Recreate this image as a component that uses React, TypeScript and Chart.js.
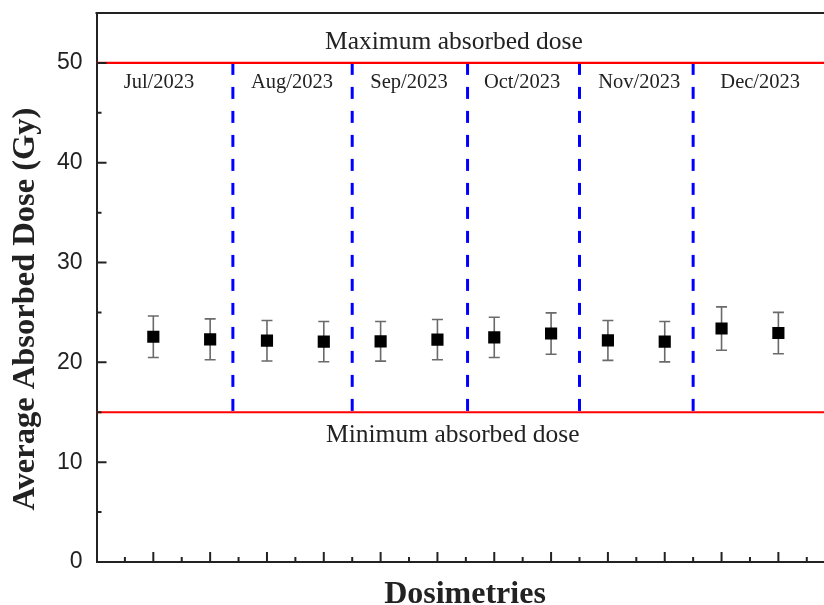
import React, { useEffect, useRef } from 'react';
import { Chart, registerables } from 'chart.js';

Chart.register(...registerables);

// ---- data ----
const dosimetryIndex = [1, 2, 3, 4, 5, 6, 7, 8, 9, 10, 11, 12];
const avgDose = [22.57, 22.31, 22.17, 22.08, 22.11, 22.28, 22.5, 22.89, 22.2, 22.07, 23.39, 22.94];
const doseError = [2.08, 2.05, 2.03, 2.02, 1.99, 2.02, 2.02, 2.07, 2.0, 2.02, 2.17, 2.07];
const monthLabels = ['Jul/2023', 'Aug/2023', 'Sep/2023', 'Oct/2023', 'Nov/2023', 'Dec/2023'];
const monthLabelX = [1.1, 3.44, 5.5, 7.49, 9.55, 11.68];
const monthDividers = [2.4, 4.5, 6.53, 8.5, 10.5];
const maxDose = 50;
const minDose = 15;
const yMajorTicks = [0, 10, 20, 30, 40, 50];
const yMinorTicks = [5, 15, 25, 35, 45];
const xMajorTicks = [1, 2, 3, 4, 5, 6, 7, 8, 9, 10, 11, 12];
const xMinorTicks = [0.5, 1.5, 2.5, 3.5, 4.5, 5.5, 6.5, 7.5, 8.5, 9.5, 10.5, 11.5, 12.5];

const SERIF = "'Liberation Serif', 'Times New Roman', serif";
const SANS = "'Liberation Sans', Arial, sans-serif";

const decorPlugin = {
  id: 'decor',
  beforeDatasetsDraw(chart: any) {
    const ctx = chart.ctx;
    const xs = chart.scales.x;
    const ys = chart.scales.y;
    const area = chart.chartArea;
    ctx.save();

    // dashed month dividers
    ctx.strokeStyle = '#0000ff';
    ctx.lineWidth = 3;
    ctx.setLineDash([12, 12]);
    monthDividers.forEach((v) => {
      const x = xs.getPixelForValue(v);
      ctx.beginPath();
      ctx.moveTo(x, ys.getPixelForValue(maxDose));
      ctx.lineTo(x, ys.getPixelForValue(minDose));
      ctx.stroke();
    });
    ctx.setLineDash([]);

    // limits
    ctx.strokeStyle = '#ff0000';
    ctx.lineWidth = 2.2;
    [maxDose, minDose].forEach((v) => {
      const y = ys.getPixelForValue(v);
      ctx.beginPath();
      ctx.moveTo(area.left, y);
      ctx.lineTo(area.right, y);
      ctx.stroke();
    });

    // error bars
    ctx.strokeStyle = '#6a6a6a';
    ctx.lineWidth = 1.6;
    dosimetryIndex.forEach((xv, i) => {
      const x = xs.getPixelForValue(xv);
      const yt = ys.getPixelForValue(avgDose[i] + doseError[i]);
      const yb = ys.getPixelForValue(avgDose[i] - doseError[i]);
      ctx.beginPath();
      ctx.moveTo(x, yt);
      ctx.lineTo(x, yb);
      ctx.moveTo(x - 5.5, yt);
      ctx.lineTo(x + 5.5, yt);
      ctx.moveTo(x - 5.5, yb);
      ctx.lineTo(x + 5.5, yb);
      ctx.stroke();
    });

    // inward ticks
    ctx.strokeStyle = '#222';
    ctx.lineWidth = 2;
    ctx.beginPath();
    yMajorTicks.forEach((v) => {
      const y = ys.getPixelForValue(v);
      ctx.moveTo(area.left, y);
      ctx.lineTo(area.left + 10, y);
    });
    yMinorTicks.forEach((v) => {
      const y = ys.getPixelForValue(v);
      ctx.moveTo(area.left, y);
      ctx.lineTo(area.left + 5, y);
    });
    xMajorTicks.forEach((v) => {
      const x = xs.getPixelForValue(v);
      ctx.moveTo(x, area.bottom);
      ctx.lineTo(x, area.bottom - 10);
    });
    xMinorTicks.forEach((v) => {
      const x = xs.getPixelForValue(v);
      ctx.moveTo(x, area.bottom);
      ctx.lineTo(x, area.bottom - 5);
    });
    ctx.stroke();

    // top frame
    ctx.beginPath();
    ctx.moveTo(area.left - 1, area.top);
    ctx.lineTo(area.right, area.top);
    ctx.stroke();
    ctx.restore();
  },
  afterDraw(chart: any) {
    const ctx = chart.ctx;
    const xs = chart.scales.x;
    const ys = chart.scales.y;
    ctx.save();
    ctx.fillStyle = '#222';
    ctx.textAlign = 'center';
    ctx.textBaseline = 'alphabetic';

    ctx.font = `20.5px ${SERIF}`;
    monthLabels.forEach((t, i) => {
      ctx.fillText(t, xs.getPixelForValue(monthLabelX[i]), 88);
    });

    ctx.font = `25.5px ${SERIF}`;
    ctx.fillText('Maximum absorbed dose', xs.getPixelForValue(6.29), ys.getPixelForValue(maxDose) - 14);
    ctx.fillText('Minimum absorbed dose', xs.getPixelForValue(6.27), ys.getPixelForValue(minDose) + 30);

    ctx.font = `bold 32px ${SERIF}`;
    ctx.fillText('Dosimetries', 465, 603);

    ctx.translate(34, 309);
    ctx.rotate(-Math.PI / 2);
    ctx.font = `bold 32.5px ${SERIF}`;
    ctx.fillText('Average Absorbed Dose (Gy)', 0, 0);
    ctx.restore();
  },
};

export default function App() {
  const ref = useRef<HTMLCanvasElement | null>(null);
  useEffect(() => {
    if (!ref.current) return;
    const chart = new Chart(ref.current, {
      type: 'scatter',
      data: {
        datasets: [
          {
            label: 'Average absorbed dose',
            data: dosimetryIndex.map((x, i) => ({ x, y: avgDose[i] })),
            pointStyle: 'rect',
            pointRadius: 8.6,
            pointBackgroundColor: '#000',
            pointBorderColor: '#000',
            pointBorderWidth: 0,
            showLine: false,
          },
        ],
      },
      plugins: [decorPlugin],
      options: {
        animation: false,
        responsive: false,
        devicePixelRatio: 1,
        layout: { padding: { left: 0, top: 13, right: 14.8, bottom: 0 } },
        plugins: { legend: { display: false }, tooltip: { enabled: false }, title: { display: false } },
        scales: {
          x: {
            type: 'linear',
            min: 0,
            max: 13,
            grid: { display: false, drawTicks: false },
            border: { display: true, color: '#222', width: 2 },
            ticks: { display: false },
            afterFit: (s: any) => {
              s.height = 43;
              s.paddingLeft = 0;
              s.paddingRight = 0;
            },
          },
          y: {
            type: 'linear',
            min: 0,
            max: 55,
            grid: { display: false, drawTicks: false },
            border: { display: true, color: '#222', width: 2 },
            afterBuildTicks: (s: any) => {
              s.ticks = yMajorTicks.map((v) => ({ value: v }));
            },
            ticks: {
              padding: 14,
              color: '#222',
              font: { family: SANS, size: 23 },
            },
            afterFit: (s: any) => {
              s.width = 96.5;
              s.paddingTop = 0;
              s.paddingBottom = 0;
            },
          },
        },
      },
    });
    return () => chart.destroy();
  }, []);
  return (
    <div style={{ position: 'absolute', left: 0, top: 0, width: 824, height: 605, overflow: 'hidden', background: '#fff' }}>
      <canvas ref={ref} width={850} height={605} style={{ display: 'block' }} />
    </div>
  );
}
